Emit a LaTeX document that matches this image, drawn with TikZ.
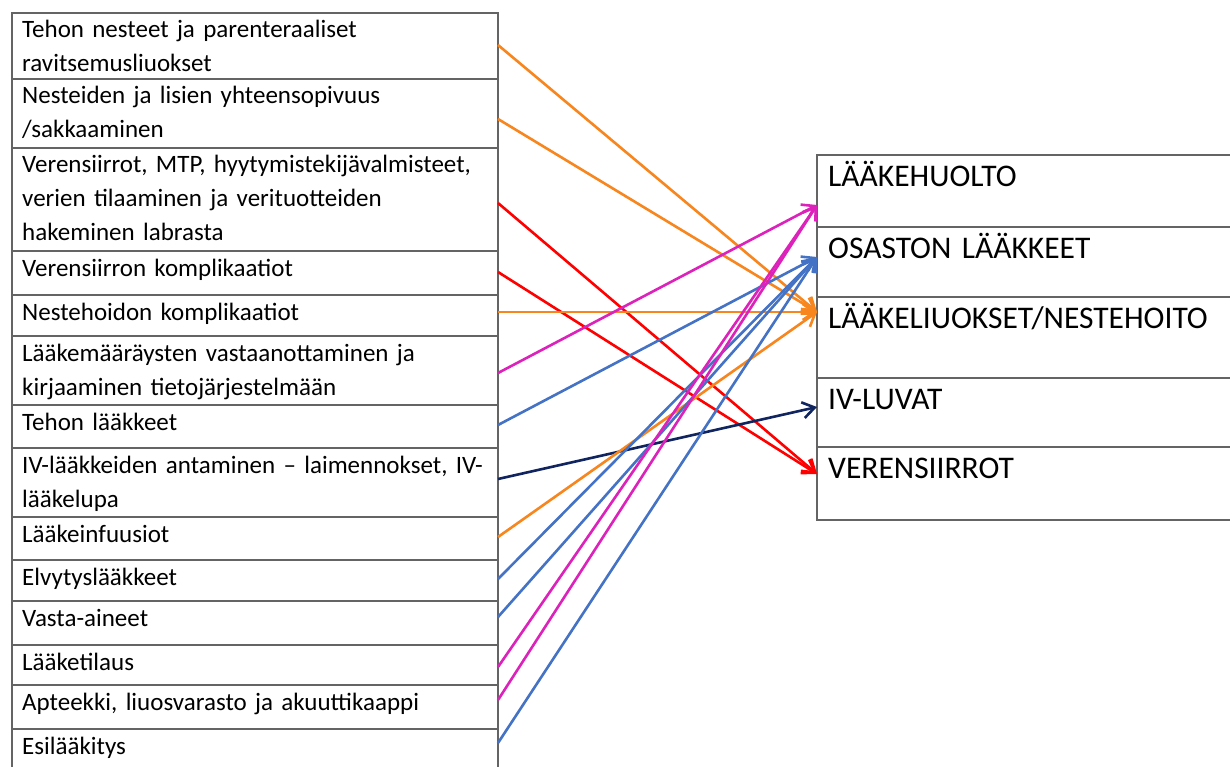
\documentclass[tikz,border=0pt]{standalone}
\usepackage{fontspec}
\setmainfont{Carlito}[WordSpace=0.6]
\usetikzlibrary{positioning,calc,arrows.meta}

\definecolor{tablegray}{RGB}{100,100,100}
\definecolor{linkorange}{RGB}{247,134,31}
\definecolor{linkred}{RGB}{255,0,0}
\definecolor{linkpink}{RGB}{221,34,187}
\definecolor{linkblue}{RGB}{68,114,196}
\definecolor{linknavy}{RGB}{16,36,96}

\tikzset{
	cell/.style = {draw=tablegray, line width=2pt, minimum width=486pt, inner sep=0pt, outer sep=0pt},
	hcell/.style = {cell, minimum width=423pt},
	celltext/.style = {anchor=north west, align=left, text width=470pt, inner xsep=10pt, inner ysep=1pt,
		font=\fontsize{25pt}{34pt}\selectfont, execute at begin node=\strut},
	htext/.style = {anchor=north west, align=left, text width=400pt, inner xsep=11pt, inner ysep=6pt,
		font=\fontsize{31.5pt}{36pt}\selectfont, execute at begin node=\strut},
	link/.style = {line width=2.6pt, -{Straight Barb[length=12pt, width=16pt]}}
}

\begin{document}
\begin{tikzpicture}[x=1pt, y=-1pt]
	\clip (0,0) rectangle (1230,767);

	% tehtavat, vasen sarake
	\node[cell, anchor=north west, minimum height=66pt] (nesteet) at (12,13) {};
	\node[cell, below=0pt of nesteet, minimum height=69pt] (sakkaus) {};
	\node[cell, below=0pt of sakkaus, minimum height=103pt] (veri) {};
	\node[cell, below=0pt of veri, minimum height=44pt] (verikompl) {};
	\node[cell, below=0pt of verikompl, minimum height=41pt] (nestekompl) {};
	\node[cell, below=0pt of nestekompl, minimum height=69pt] (maarays) {};
	\node[cell, below=0pt of maarays, minimum height=43pt] (tehoLaak) {};
	\node[cell, below=0pt of tehoLaak, minimum height=69pt] (ivAnto) {};
	\node[cell, below=0pt of ivAnto, minimum height=43pt] (infuusio) {};
	\node[cell, below=0pt of infuusio, minimum height=41pt] (elvytys) {};
	\node[cell, below=0pt of elvytys, minimum height=44pt] (vasta) {};
	\node[cell, below=0pt of vasta, minimum height=40pt] (tilaus) {};
	\node[cell, below=0pt of tilaus, minimum height=44pt] (apteekki) {};
	\node[cell, below=0pt of apteekki, minimum height=50pt] (esilaak) {};

	\node[celltext] (nesteetT) at (nesteet.north west) {Tehon nesteet ja parenteraaliset\\ravitsemusliuokset};
	\node[celltext] (sakkausT) at (sakkaus.north west) {Nesteiden ja lisien yhteensopivuus\\/sakkaaminen};
	\node[celltext] (veriT) at (veri.north west) {Verensiirrot, MTP, hyytymistekijävalmisteet,\\verien tilaaminen ja verituotteiden\\hakeminen labrasta};
	\node[celltext] (verikomplT) at (verikompl.north west) {Verensiirron komplikaatiot};
	\node[celltext] (nestekomplT) at (nestekompl.north west) {Nestehoidon komplikaatiot};
	\node[celltext] (maaraysT) at (maarays.north west) {Lääkemääräysten vastaanottaminen ja\\kirjaaminen tietojärjestelmään};
	\node[celltext] (tehoLaakT) at (tehoLaak.north west) {Tehon lääkkeet};
	\node[celltext] (ivAntoT) at (ivAnto.north west) {IV-lääkkeiden antaminen -- laimennokset, IV-\\lääkelupa};
	\node[celltext] (infuusioT) at (infuusio.north west) {Lääkeinfuusiot};
	\node[celltext] (elvytysT) at (elvytys.north west) {Elvytyslääkkeet};
	\node[celltext] (vastaT) at (vasta.north west) {Vasta-aineet};
	\node[celltext] (tilausT) at (tilaus.north west) {Lääketilaus};
	\node[celltext] (apteekkiT) at (apteekki.north west) {Apteekki, liuosvarasto ja akuuttikaappi};
	\node[celltext] (esilaakT) at (esilaak.north west) {Esilääkitys};

	% osa-alueet, oikea sarake
	\node[hcell, anchor=north west, minimum height=72pt] (huolto) at (817,155) {};
	\node[hcell, below=0pt of huolto, minimum height=70pt] (osasto) {};
	\node[hcell, below=0pt of osasto, minimum height=81pt] (liuokset) {};
	\node[hcell, below=0pt of liuokset, minimum height=69pt] (ivluvat) {};
	\node[hcell, below=0pt of ivluvat, minimum height=73pt] (siirrot) {};

	\node[htext] (huoltoT) at (huolto.north west) {LÄÄKEHUOLTO};
	\node[htext] (osastoT) at (osasto.north west) {OSASTON LÄÄKKEET};
	\node[htext] (liuoksetT) at (liuokset.north west) {LÄÄKELIUOKSET/NESTEHOITO};
	\node[htext] (ivluvatT) at (ivluvat.north west) {IV-LUVAT};
	\node[htext] (siirrotT) at (siirrot.north west) {VERENSIIRROT};

	\coordinate (toHuolto) at ($(huolto.north west)+(0,50)$);
	\coordinate (toOsasto) at ($(osasto.north west)+(0,30)$);
	\coordinate (toLiuokset) at ($(liuokset.north west)+(0,15)$);
	\coordinate (toIv) at ($(ivluvat.north west)+(0,29)$);
	\coordinate (toSiirrot) at ($(siirrot.north west)+(0,27)$);

	% yhteydet
	\draw[link, linkorange] ($(nesteet.north east)+(0,32)$) -- (toLiuokset);
	\draw[link, linkorange] ($(sakkaus.north east)+(0,40)$) -- (toLiuokset);
	\draw[link, linkred] ($(veri.north east)+(0,55)$) -- (toSiirrot);
	\draw[link, linkred] ($(verikompl.north east)+(0,21)$) -- (toSiirrot);
	\draw[link, linkorange] ($(nestekompl.north east)+(0,17)$) -- (toLiuokset);
	\draw[link, linkpink] ($(maarays.north east)+(0,37)$) -- (toHuolto);
	\draw[link, linkblue] ($(tehoLaak.north east)+(0,20)$) -- (toOsasto);
	\draw[link, linknavy] ($(ivAnto.north east)+(0,31)$) -- (toIv);
	\draw[link, linkorange] ($(infuusio.north east)+(0,20)$) -- (toLiuokset);
	\draw[link, linkblue] ($(elvytys.north east)+(0,19)$) -- (toOsasto);
	\draw[link, linkblue] ($(vasta.north east)+(0,16)$) -- (toOsasto);
	\draw[link, linkpink] ($(tilaus.north east)+(0,22)$) -- (toHuolto);
	\draw[link, linkpink] ($(apteekki.north east)+(0,15)$) -- (toHuolto);
	\draw[link, linkblue] ($(esilaak.north east)+(0,14)$) -- (toOsasto);
\end{tikzpicture}
\end{document}
